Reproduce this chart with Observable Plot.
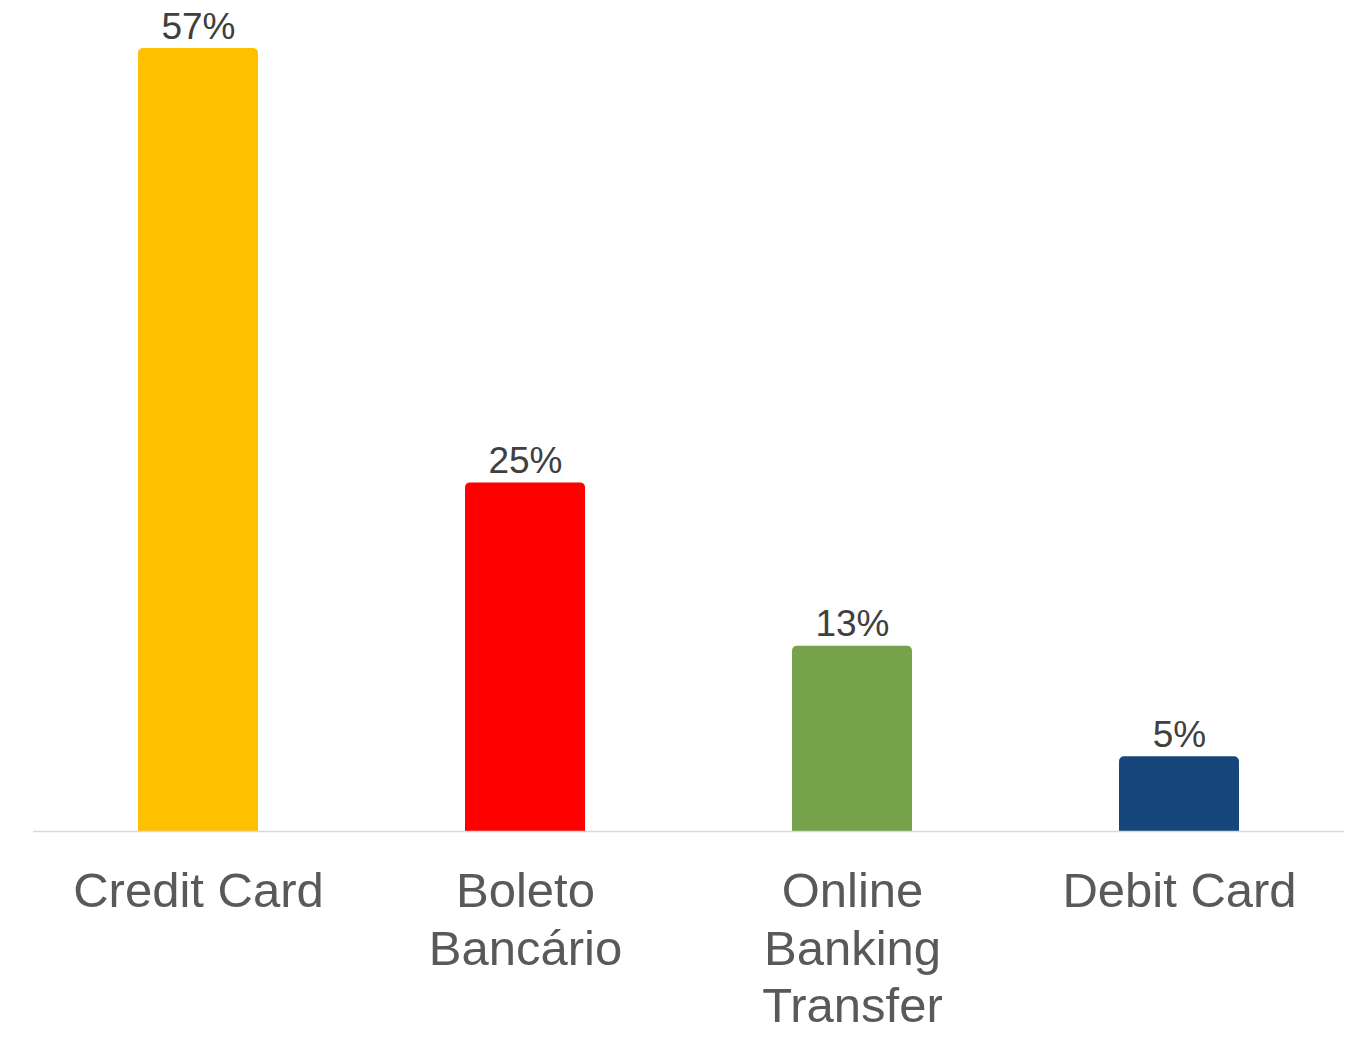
<!DOCTYPE html>
<html>
<head>
<meta charset="utf-8">
<script src="https://cdn.jsdelivr.net/npm/d3@7"></script>
<script src="https://cdn.jsdelivr.net/npm/@observablehq/plot@0.6"></script>
<style>
  html, body { margin: 0; padding: 0; background: #ffffff; }
  #chart { width: 1356px; height: 1060px; }
  svg { font-family: "Liberation Sans", Arial, sans-serif; }
</style>
</head>
<body>
<div id="chart"></div>
<script>
const categories = ["Credit Card", "Boleto Bancário", "Online Banking Transfer", "Debit Card"];
const tickLabels = ["Credit Card", "Boleto\nBancário", "Online\nBanking\nTransfer", "Debit Card"];
const shares = [56.6, 25.2, 13.4, 5.4];
const valueLabels = ["57%", "25%", "13%", "5%"];
const colors = ["#FFC000", "#FF0000", "#76A24C", "#16467B"];

const data = categories.map((c, i) => ({
  category: c,
  share: shares[i],
  label: valueLabels[i],
  color: colors[i]
}));

const chart = Plot.plot({
  width: 1356,
  height: 1060,
  marginLeft: 33,
  marginRight: 12,
  marginTop: 1,
  marginBottom: 229,
  style: { fontFamily: "Liberation Sans, Arial, sans-serif", background: "#ffffff" },
  x: { domain: categories, paddingInner: 0.634, paddingOuter: 0.317, label: null },
  y: { domain: [0, 60], axis: null },
  marks: [
    Plot.barY(data, { x: "category", y: "share", fill: "color", rx: 5 }),
    Plot.barY(data, { x: "category", y1: 0, y2: d => Math.min(d.share, 1), fill: "color" }),
    Plot.ruleY([0], { stroke: "#d9d9d9", strokeWidth: 1.5 }),
    Plot.text(data, {
      x: "category", y: "share", text: "label",
      lineAnchor: "bottom", dy: -10,
      fontSize: 37, fill: "#404040"
    }),
    Plot.axisX({
      tickSize: 0,
      tickPadding: 35,
      tickFormat: d => tickLabels[categories.indexOf(d)],
      fontSize: 49,
      lineHeight: 1.17,
      lineAnchor: "top",
      fill: "#595959",
      label: null
    })
  ]
});
document.getElementById("chart").appendChild(chart);
</script>
</body>
</html>
